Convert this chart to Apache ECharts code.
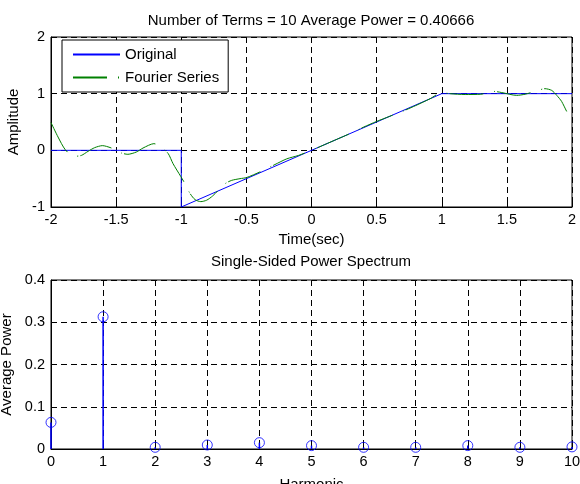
<!DOCTYPE html>
<html>
<head>
<meta charset="utf-8">
<script src="https://cdn.jsdelivr.net/npm/echarts@6/dist/echarts.min.js"></script>
<style>
  html, body { margin: 0; padding: 0; background: #fff; }
  #chart { width: 580px; height: 484px; }
</style>
</head>
<body>
<div id="chart"></div>
<script>
// original signal (time, amplitude)
const originalT = [-2, -1, -1, 1, 2]
const originalV = [0, 0, -1, 1, 1]

// 10-term Fourier series
const fourierT = [-2, -1.946, -1.89, -1.823, -1.767, -1.716, -1.665, -1.606, -1.51, -1.46, -1.41, -1.345, -1.294,
  -1.21, -1.153, -1.10, -1.063, -1.004, -0.971, -0.933, -0.894, -0.85, -0.805, -0.759, -0.664, -0.613, -0.549,
  -0.498, -0.395, -0.28, -0.19, -0.1, 0, 0.1, 0.2, 0.3, 0.4, 0.5, 0.6, 0.7, 0.8, 0.91, 1.0, 1.06, 1.18, 1.30,
  1.40, 1.46, 1.575, 1.64, 1.723, 1.793, 1.844, 1.883, 1.92, 1.964, 2]
const fourierV = [0.49, 0.235, 0.01, -0.106, -0.09, -0.018, 0.047, 0.083, 0.018, -0.047, -0.07, -0.03, 0.04,
  0.118, 0.058, -0.058, -0.235, -0.46, -0.59, -0.76, -0.87, -0.905, -0.88, -0.805, -0.59, -0.53, -0.50,
  -0.48, -0.38, -0.25, -0.15, -0.09, 0, 0.1, 0.2, 0.3, 0.41, 0.51, 0.6, 0.69, 0.79, 0.91, 1.02, 1.0, 0.985, 0.99,
  1.04, 1.02, 0.97, 0.99, 1.046, 1.088, 1.058, 0.97, 0.864, 0.665, 0.53]

// power spectrum
const harmonics = [0, 1, 2, 3, 4, 5, 6, 7, 8, 9, 10]
const avgPower = [0.063, 0.313, 0.004, 0.0095, 0.015, 0.008, 0.004, 0.004, 0.008, 0.004, 0.005]

const topTitle = 'Number of Terms = 10 Average Power = 0.40666'
const bottomTitle = 'Single-Sided Power Spectrum'

const pair = (xs, ys) => xs.map((x, i) => [x, ys[i]])

const font = 'Liberation Sans, Arial, sans-serif'
const txt = { color: '#000', fontSize: 15, fontFamily: font }
const tickTxt = { color: '#000', fontSize: 14.5, fontFamily: font }
const gridLine = { show: true, lineStyle: { color: '#000', width: 1, type: [6, 4] } }
const tick = { show: true, inside: true, length: 5, lineStyle: { color: '#000' } }
const axLine = { show: true, onZero: false, lineStyle: { color: '#000', width: 1 } }

const chart = echarts.init(document.getElementById('chart'), null, { renderer: 'canvas' })

chart.setOption({
  animation: false,
  backgroundColor: '#fff',
  textStyle: { fontFamily: font },
  title: [
    { text: topTitle, left: 311, top: 13, padding: 0, textAlign: 'center', textStyle: { ...txt, fontWeight: 'normal' } },
    { text: bottomTitle, left: 311, top: 254, padding: 0, textAlign: 'center', textStyle: { ...txt, fontWeight: 'normal' } }
  ],
  legend: {
    data: ['Original', 'Fourier Series'],
    orient: 'vertical',
    left: 62,
    top: 40,
    padding: [7, 9, 7, 10],
    itemWidth: 47,
    itemHeight: 14,
    itemGap: 8,
    itemStyle: { opacity: 0 },
    backgroundColor: '#fff',
    borderColor: '#000',
    borderWidth: 1,
    borderRadius: 0,
    textStyle: txt
  },
  grid: [
    { left: 51, top: 37, width: 521, height: 170, show: true, borderColor: '#000', borderWidth: 1, outerBoundsMode: 'none' },
    { left: 51, top: 280, width: 521, height: 169, show: true, borderColor: '#000', borderWidth: 1, outerBoundsMode: 'none' }
  ],
  xAxis: [
    {
      gridIndex: 0, type: 'value', min: -2, max: 2, interval: 0.5,
      name: 'Time(sec)', nameLocation: 'middle', nameGap: 25, nameTextStyle: txt,
      axisLine: axLine, axisTick: tick, splitLine: gridLine,
      axisLabel: { ...tickTxt, margin: 5 }
    },
    {
      gridIndex: 1, type: 'value', min: 0, max: 10, interval: 1,
      name: 'Harmonic', nameLocation: 'middle', nameGap: 28, nameTextStyle: txt,
      axisLine: axLine, axisTick: tick, splitLine: gridLine,
      axisLabel: { ...tickTxt, margin: 5 }
    }
  ],
  yAxis: [
    {
      gridIndex: 0, type: 'value', min: -1, max: 2, interval: 1,
      name: 'Amplitude', nameLocation: 'middle', nameGap: 29, nameTextStyle: txt,
      axisLine: axLine, axisTick: tick, splitLine: gridLine,
      axisLabel: { ...tickTxt, margin: 6 }
    },
    {
      gridIndex: 1, type: 'value', min: 0, max: 0.4, interval: 0.1,
      name: 'Average Power', nameLocation: 'middle', nameGap: 35, nameTextStyle: txt,
      axisLine: axLine, axisTick: tick, splitLine: gridLine,
      axisLabel: { ...tickTxt, margin: 6 }
    }
  ],
  series: [
    {
      name: 'Original',
      type: 'line',
      xAxisIndex: 0, yAxisIndex: 0,
      data: pair(originalT, originalV),
      symbol: 'none',
      lineStyle: { color: '#0000ff', width: 1 },
      itemStyle: { color: '#0000ff' },
      z: 3
    },
    {
      name: 'Fourier Series',
      type: 'line',
      xAxisIndex: 0, yAxisIndex: 0,
      data: pair(fourierT, fourierV),
      symbol: 'none',
      smooth: 0.25,
      lineStyle: { color: '#008000', width: 1, type: [34, 11, 1, 2] },
      itemStyle: { color: '#008000' },
      z: 4
    },
    {
      // stems
      type: 'bar',
      xAxisIndex: 1, yAxisIndex: 1,
      data: pair(harmonics, avgPower),
      barWidth: 1.5,
      itemStyle: { color: '#0000ff' },
      silent: true,
      z: 3
    },
    {
      type: 'scatter',
      xAxisIndex: 1, yAxisIndex: 1,
      data: pair(harmonics, avgPower),
      symbol: 'circle',
      symbolSize: 10,
      itemStyle: { color: 'rgba(0,0,0,0)', borderColor: '#0000ff', borderWidth: 1 },
      z: 4
    }
  ]
})
</script>
</body>
</html>
